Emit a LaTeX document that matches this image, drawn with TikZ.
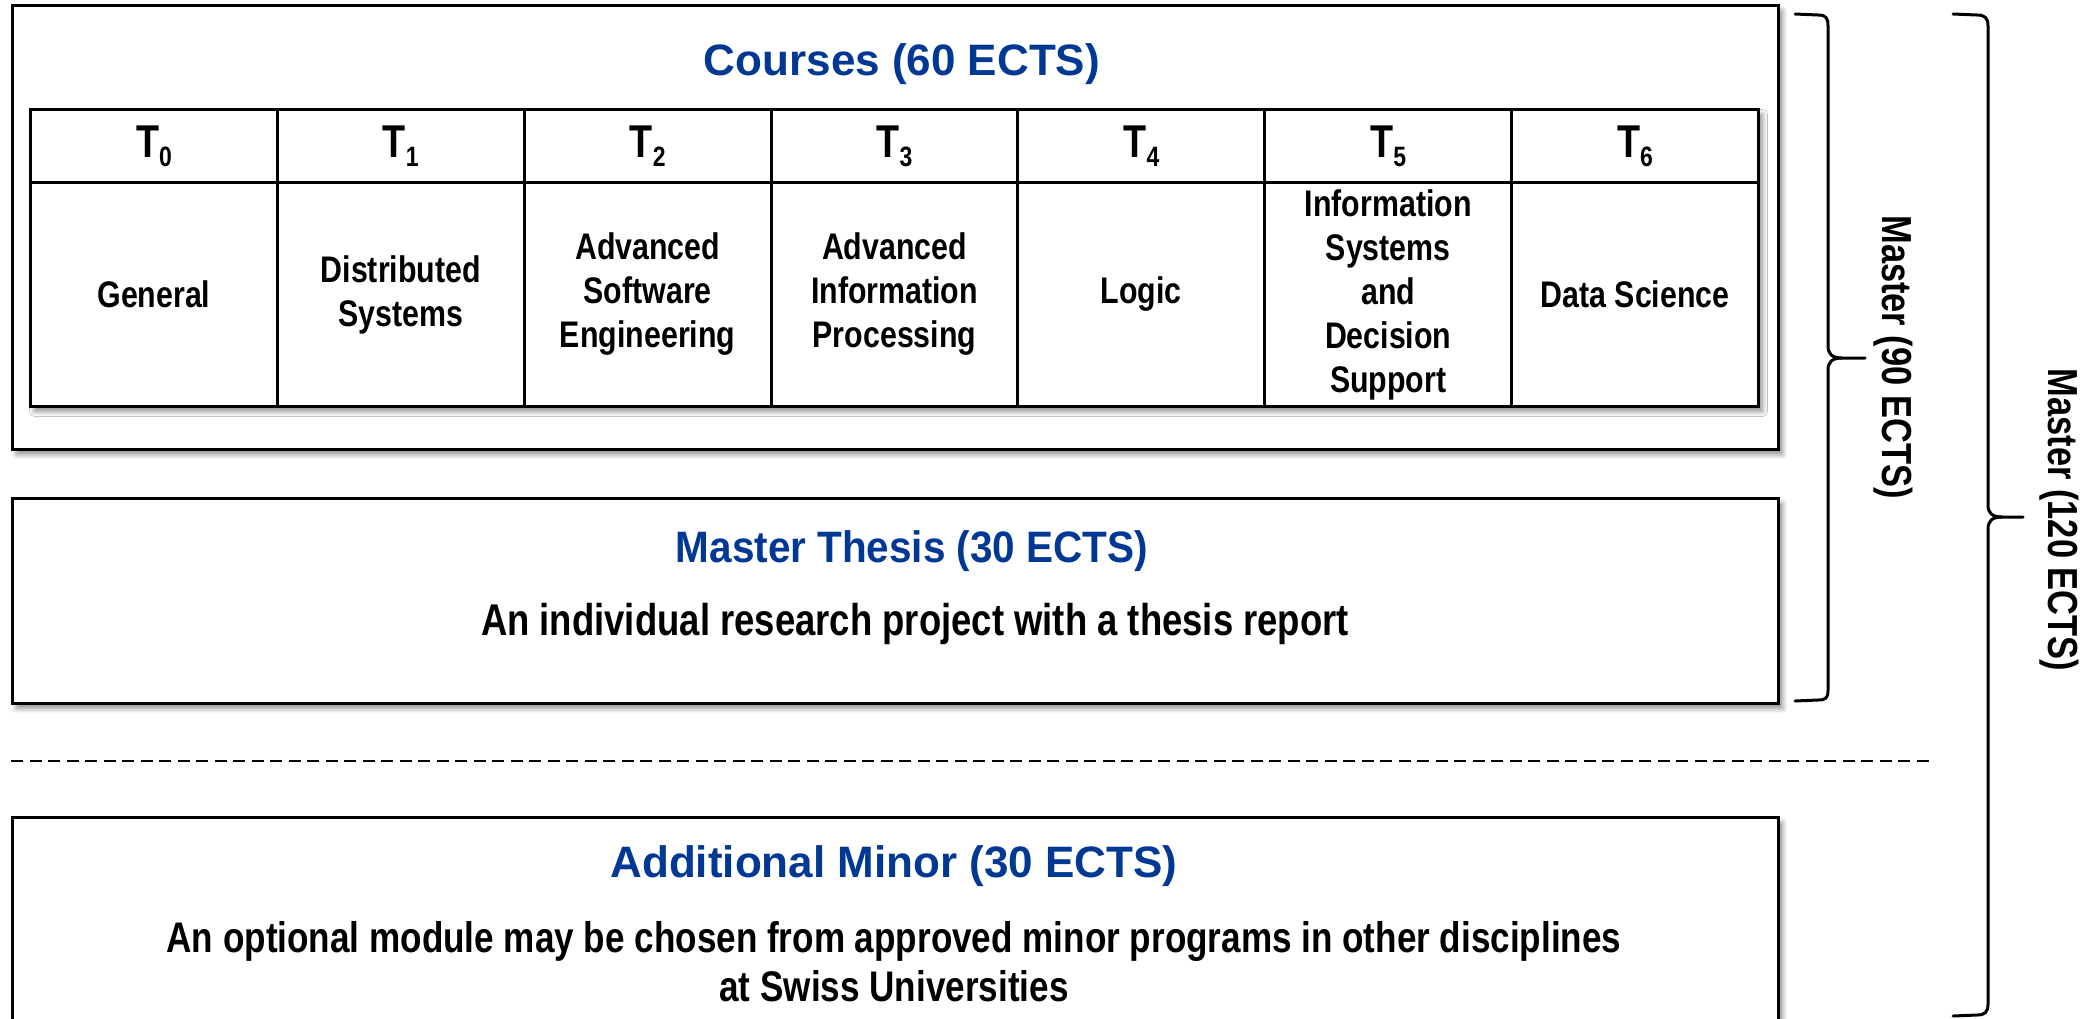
\documentclass[tikz,border=0pt]{standalone}
\usepackage{fontspec}
\setmainfont{Liberation Sans}
\newfontfamily\nb{Liberation Sans}[FakeStretch=0.82]
\newfontfamily\sn{Liberation Sans}[FakeStretch=0.92]
\usetikzlibrary{shadows.blur}
\definecolor{tblue}{RGB}{0,56,147}
\newcommand\Tsub[1]{T\raisebox{-9pt}{\fontsize{28}{28}\selectfont #1}}
\begin{document}
\begin{tikzpicture}[x=1pt,y=-1pt,
  box/.style={draw, line width=3pt, fill=white, inner sep=0pt, anchor=north west,
    blur shadow={shadow xshift=4pt, shadow yshift=-5pt, shadow blur radius=5pt, shadow blur steps=6, shadow opacity=45}},
  cell/.style={draw, line width=3pt, inner sep=0pt, anchor=north west, minimum width=246.857pt, align=center},
  ttl/.style={font=\bfseries\fontsize{44}{50}\selectfont, text=tblue, inner sep=0pt},
  hdr/.style={font=\nb\bfseries\fontsize{46}{48}\selectfont},
  body/.style={font=\nb\bfseries\fontsize{37}{44}\selectfont},
  sub/.style={font=\nb\bfseries\fontsize{42.8}{49}\selectfont, align=center, inner sep=0pt},
  side/.style={font=\nb\bfseries\fontsize{42}{44}\selectfont, rotate=-90, inner sep=0pt},
  brace/.style={line width=3pt, line cap=round, line join=round}
]
\path[use as bounding box] (0,0) rectangle (2090,1018);
\clip (0,0) rectangle (2090,1018);

% Courses
\node[box, minimum width=1766pt, minimum height=444pt] (courses) at (11,4) {};
\node[ttl] (ctitle) at (902,64) {Courses (60 ECTS)};
\node[box, minimum width=1728pt, minimum height=297pt] (table) at (29,108) {};
\foreach \i/\t in {0/{General}, 1/{Distributed\\Systems}, 2/{Advanced\\Software\\Engineering},
  3/{Advanced\\Information\\Processing}, 4/{Logic}, 5/{Information\\Systems\\and\\Decision\\Support}, 6/{Data Science}}{
  \node[cell, hdr, minimum height=73pt] (h\i) at ({29+246.857*\i},108) {\Tsub{\i}};
  \node[cell, body, minimum height=224pt] (b\i) at ({29+246.857*\i},181) {\t};
}

% Thesis
\node[box, minimum width=1766pt, minimum height=205pt] (thesis) at (11,497) {};
\node[ttl, font=\sn\bfseries\fontsize{44}{50}\selectfont] (ttitle) at (912,551) {Master Thesis (30 ECTS)};
\node[sub, font=\nb\bfseries\fontsize{44.5}{50}\selectfont] (tsub) at (915,624) {An individual research project with a thesis report};

% separator
\draw[line width=2.2pt, dash pattern=on 12pt off 6.5pt] (11,761) -- (1934,761);

% Minor
\node[box, minimum width=1766pt, minimum height=260pt] (minor) at (11,816) {};
\node[ttl] (mtitle) at (894,866) {Additional Minor (30 ECTS)};
\node[sub] (msub) at (894,962) {An optional module may be chosen from approved minor programs in other disciplines\\at Swiss Universities};

% braces
\draw[brace] (1795,14) -- (1818,15) .. controls (1826,15) and (1828,18) .. (1828,26) -- (1828,346)
  .. controls (1828,354) and (1832,358) .. (1842,358) -- (1865,358);
\draw[brace] (1842,358) .. controls (1832,358) and (1828,362) .. (1828,370) -- (1828,690)
  .. controls (1828,698) and (1826,700) .. (1818,700) -- (1795,701);
\node[side] (m90) at (1893,357) {Master (90 ECTS)};

\draw[brace] (1953,14) -- (1977,15) .. controls (1985,15) and (1988,18) .. (1988,26) -- (1988,505)
  .. controls (1988,513) and (1992,517) .. (2002,517) -- (2023,517);
\draw[brace] (2002,517) .. controls (1992,517) and (1988,521) .. (1988,529) -- (1988,1004)
  .. controls (1988,1012) and (1985,1015) .. (1977,1015) -- (1953,1016);
\node[side] (m120) at (2059,520) {Master (120 ECTS)};
\end{tikzpicture}
\end{document}
